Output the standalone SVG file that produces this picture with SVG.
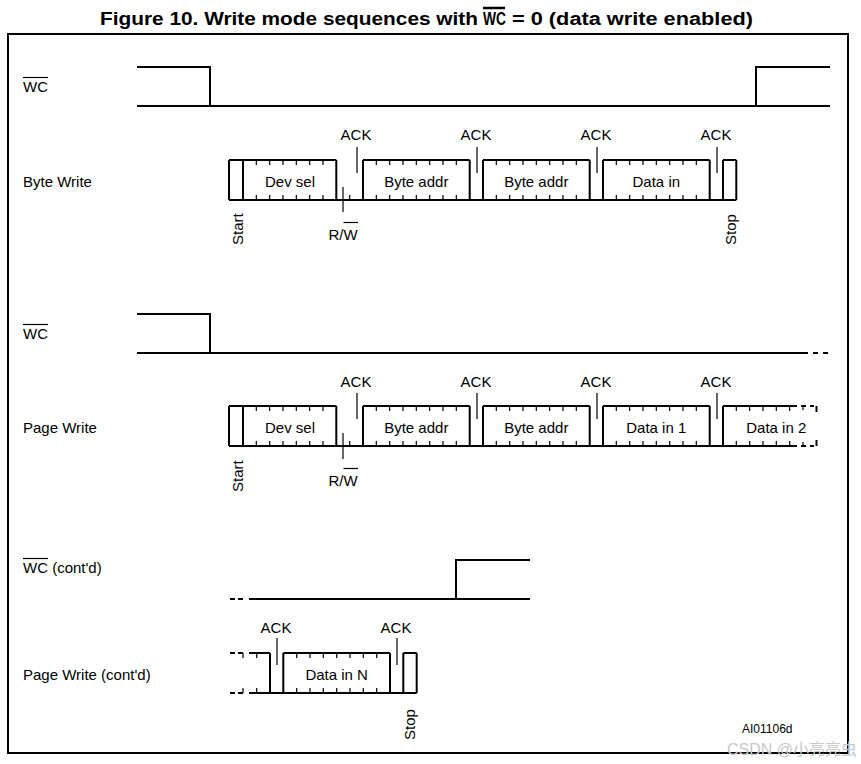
<svg xmlns="http://www.w3.org/2000/svg" width="861" height="764" viewBox="0 0 861 764">
<style>
.t{font-family:"Liberation Sans",Arial,sans-serif;font-size:15px;fill:#000}
.c{text-anchor:middle}
.title{font-family:"Liberation Sans",Arial,sans-serif;font-size:18px;font-weight:bold;fill:#000}
.sig{stroke:#000;stroke-width:2;fill:none}
.box{stroke:#000;stroke-width:2;fill:none}
.tk{stroke:#000;stroke-width:1.2;fill:none}
.ack{stroke:#000;stroke-width:1.2;fill:none}
.ol{stroke:#000;stroke-width:1.2}
</style>
<rect width="861" height="764" fill="#fff"/>
<g id="title">
<text class="title" x="100" y="25" textLength="378" lengthAdjust="spacingAndGlyphs">Figure 10. Write mode sequences with</text>
<text class="title" x="483" y="25" textLength="23" lengthAdjust="spacingAndGlyphs">WC</text>
<text class="title" x="512" y="25" textLength="241" lengthAdjust="spacingAndGlyphs">= 0 (data write enabled)</text>
<line x1="483" y1="8" x2="505" y2="8" stroke="#000" stroke-width="2.5"/>
</g>
<rect id="frame" x="8" y="34" width="840" height="719" fill="none" stroke="#000" stroke-width="2"/>

<!-- Block 1 -->
<g id="wc1">
<text class="t" x="23" y="92">WC</text>
<line class="ol" x1="23" y1="77.5" x2="48" y2="77.5"/>
<path class="sig" d="M137 67 H210 V106 M137 106 H830 M756 106 V67 H830"/>
</g>
<g id="bytewrite">
<text class="t" x="23" y="187">Byte Write</text>
<path class="box" d="M229 160 H336.3 M363 160 H469.7 M483 160 H589.7 M603 160 H709.7 M723 160 H736.3 M229 200 H736.3 M229 160 V200 M243 160 V200 M336.3 160 V200 M363 160 V200 M469.7 160 V200 M483 160 V200 M589.7 160 V200 M603 160 V200 M709.7 160 V200 M723 160 V200 M736.3 160 V200"/>
<path class="tk" d="M256.3 160 v5 M269.7 160 v5 M283 160 v5 M296.3 160 v5 M309.7 160 v5 M323 160 v5 M256.3 200 v-5 M269.7 200 v-5 M283 200 v-5 M296.3 200 v-5 M309.7 200 v-5 M323 200 v-5 M349.7 200 v-5
M376.3 160 v5 M389.7 160 v5 M403 160 v5 M416.3 160 v5 M429.7 160 v5 M443 160 v5 M456.3 160 v5 M376.3 200 v-5 M389.7 200 v-5 M403 200 v-5 M416.3 200 v-5 M429.7 200 v-5 M443 200 v-5 M456.3 200 v-5
M496.3 160 v5 M509.7 160 v5 M523 160 v5 M536.3 160 v5 M549.7 160 v5 M563 160 v5 M576.3 160 v5 M496.3 200 v-5 M509.7 200 v-5 M523 200 v-5 M536.3 200 v-5 M549.7 200 v-5 M563 200 v-5 M576.3 200 v-5
M616.3 160 v5 M629.7 160 v5 M643 160 v5 M656.3 160 v5 M669.7 160 v5 M683 160 v5 M696.3 160 v5 M616.3 200 v-5 M629.7 200 v-5 M643 200 v-5 M656.3 200 v-5 M669.7 200 v-5 M683 200 v-5 M696.3 200 v-5"/>
<text class="t c" x="290" y="187">Dev sel</text>
<text class="t c" x="416.3" y="187">Byte addr</text>
<text class="t c" x="536.3" y="187">Byte addr</text>
<text class="t c" x="656.3" y="187">Data in</text>
<text class="t" transform="translate(243,245) rotate(-90)">Start</text>
<text class="t" transform="translate(735.5,245) rotate(-90)">Stop</text>
<text class="t c" x="343" y="240">R/W</text>
<line class="ol" x1="343.5" y1="222.5" x2="358" y2="222.5"/>
</g>
<g id="ack1">
<path class="ack" d="M357 147 V173 M477 147 V173 M597 147 V173 M717 147 V173 M343 187 V212"/>
<text class="t c" x="356" y="140">ACK</text>
<text class="t c" x="476" y="140">ACK</text>
<text class="t c" x="596" y="140">ACK</text>
<text class="t c" x="716" y="140">ACK</text>
</g>

<!-- Block 2 -->
<g id="wc2">
<text class="t" x="23" y="339">WC</text>
<line class="ol" x1="23" y1="324.5" x2="48" y2="324.5"/>
<path class="sig" d="M137 314 H210 V353 M137 353 H808 M813 353 H818 M823 353 H828"/>
</g>
<g id="pagewrite">
<text class="t" x="23" y="433">Page Write</text>
<path class="box" d="M229 406 H336.3 M363 406 H469.7 M483 406 H589.7 M603 406 H709.7 M723 406 H797 M229 446 H797 M229 406 V446 M243 406 V446 M336.3 406 V446 M363 406 V446 M469.7 406 V446 M483 406 V446 M589.7 406 V446 M603 406 V446 M709.7 406 V446 M723 406 V446"/>
<path class="box" d="M801 406 H806 M810 406 H814 M801 446 H806 M810 446 H814 M816.5 406 V412 M816.5 440 V446"/>
<path class="tk" d="M256.3 406 v5 M269.7 406 v5 M283 406 v5 M296.3 406 v5 M309.7 406 v5 M323 406 v5 M256.3 446 v-5 M269.7 446 v-5 M283 446 v-5 M296.3 446 v-5 M309.7 446 v-5 M323 446 v-5 M349.7 446 v-5
M376.3 406 v5 M389.7 406 v5 M403 406 v5 M416.3 406 v5 M429.7 406 v5 M443 406 v5 M456.3 406 v5 M376.3 446 v-5 M389.7 446 v-5 M403 446 v-5 M416.3 446 v-5 M429.7 446 v-5 M443 446 v-5 M456.3 446 v-5
M496.3 406 v5 M509.7 406 v5 M523 406 v5 M536.3 406 v5 M549.7 406 v5 M563 406 v5 M576.3 406 v5 M496.3 446 v-5 M509.7 446 v-5 M523 446 v-5 M536.3 446 v-5 M549.7 446 v-5 M563 446 v-5 M576.3 446 v-5
M616.3 406 v5 M629.7 406 v5 M643 406 v5 M656.3 406 v5 M669.7 406 v5 M683 406 v5 M696.3 406 v5 M616.3 446 v-5 M629.7 446 v-5 M643 446 v-5 M656.3 446 v-5 M669.7 446 v-5 M683 446 v-5 M696.3 446 v-5
M736.3 406 v5 M749.7 406 v5 M763 406 v5 M776.3 406 v5 M789.7 406 v5 M803 406 v4 M736.3 446 v-5 M749.7 446 v-5 M763 446 v-5 M776.3 446 v-5 M789.7 446 v-5 M803 446 v-4"/>
<text class="t c" x="290" y="433">Dev sel</text>
<text class="t c" x="416.3" y="433">Byte addr</text>
<text class="t c" x="536.3" y="433">Byte addr</text>
<text class="t c" x="656.3" y="433">Data in 1</text>
<text class="t c" x="776.3" y="433">Data in 2</text>
<text class="t" transform="translate(243,492) rotate(-90)">Start</text>
<text class="t c" x="343" y="486">R/W</text>
<line class="ol" x1="343.5" y1="468.5" x2="358" y2="468.5"/>
</g>
<g id="ack2">
<path class="ack" d="M357 393 V419 M477 393 V419 M597 393 V419 M717 393 V419 M343 433 V459"/>
<text class="t c" x="356" y="387">ACK</text>
<text class="t c" x="476" y="387">ACK</text>
<text class="t c" x="596" y="387">ACK</text>
<text class="t c" x="716" y="387">ACK</text>
</g>

<!-- Block 3 -->
<g id="wc3">
<text class="t" x="23" y="573">WC (cont'd)</text>
<line class="ol" x1="23" y1="558.5" x2="48" y2="558.5"/>
<path class="sig" d="M230 599 H235 M238 599 H243 M249 599 H530 M456 599 V560 H530"/>
</g>
<g id="pagewrite3">
<text class="t" x="23" y="680">Page Write (cont'd)</text>
<path class="box" d="M230 653 H235 M238 653 H243 M230 693 H235 M238 693 H243 M249 653 H270 M283.3 653 H390 M403.3 653 H416.7 M249 693 H416.7 M270 653 V693 M283.3 653 V693 M390 653 V693 M403.3 653 V693 M416.7 653 V693"/>
<path class="tk" d="M243 653 v5 M243 693 v-5 M256.7 653 v5 M256.7 693 v-5
M296.7 653 v5 M310 653 v5 M323.3 653 v5 M336.7 653 v5 M350 653 v5 M363.3 653 v5 M376.7 653 v5
M296.7 693 v-5 M310 693 v-5 M323.3 693 v-5 M336.7 693 v-5 M350 693 v-5 M363.3 693 v-5 M376.7 693 v-5"/>
<text class="t c" x="336.7" y="680">Data in N</text>
<text class="t" transform="translate(415,740) rotate(-90)">Stop</text>
</g>
<g id="ack3">
<path class="ack" d="M277 638 V665 M397 638 V665"/>
<text class="t c" x="276" y="633">ACK</text>
<text class="t c" x="396" y="633">ACK</text>
</g>
<text id="ref" x="742" y="733" font-family="Liberation Sans, Arial, sans-serif" font-size="12" fill="#000">AI01106d</text>
<text id="wm" x="727" y="755" font-family="Liberation Sans, 'Noto Sans CJK SC', sans-serif" font-size="16" fill="#c8c8c8">CSDN @小亮亮虫</text>
</svg>
